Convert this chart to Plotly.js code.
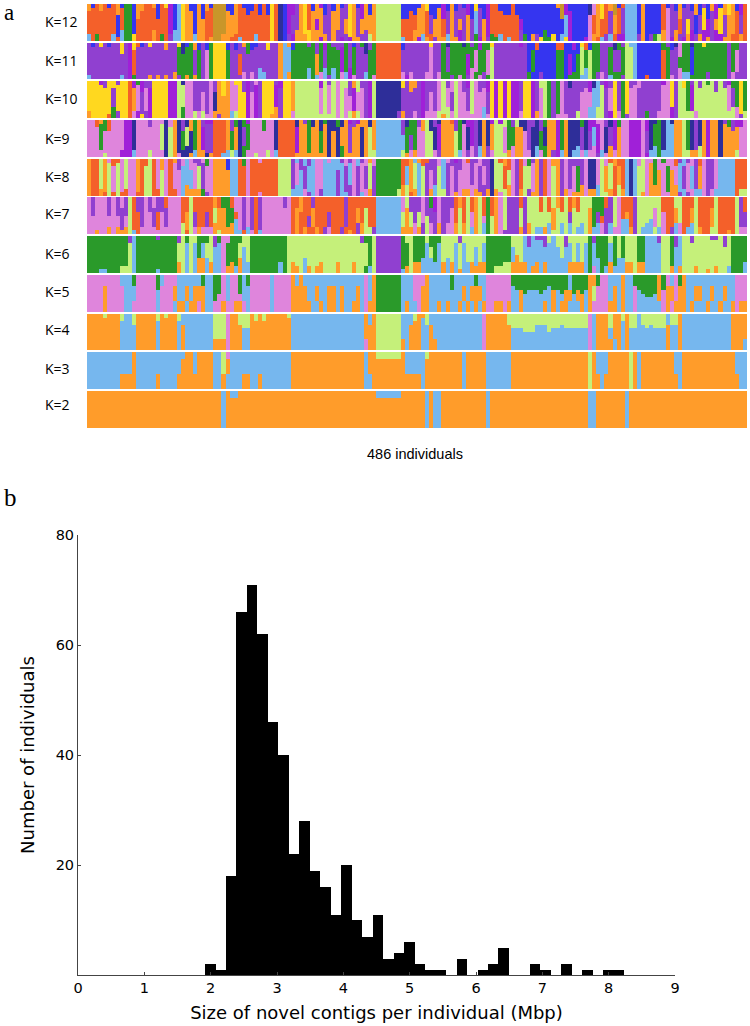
<!DOCTYPE html>
<html>
<head>
<meta charset="utf-8">
<script src="https://cdn.plot.ly/plotly-3.0.1.min.js"></script>
<style>html,body{margin:0;padding:0;background:#fff}#c{width:750px;height:1026px}</style>
</head>
<body>
<div id="c"></div>
<script>
// Ancestry palette
var palette = {o:'#FF9C2A',b:'#76B7EE',l:'#C5F07A',p:'#DF85DC',g:'#2A9A2A',v:'#9040D0',r:'#F4602A',y:'#FFD81F',n:'#2E2E99',u:'#3535F0',m:'#A020D8',d:'#C8962A'};
var kLabels = ['K=12','K=11','K=10','K=9','K=8','K=7','K=6','K=5','K=4','K=3','K=2'];
var individualsPerColumn = 3;

// One letter per 3 individuals, top / middle / bottom part of each bar
var k12Top="ouroruroug guoorroury mubyouuouo uddduuoruu ururuyrnum mvoyruomuv uouvyoumou olllllluuu uuoyuuumuo uvumuyuumr ruuuruuuuu uuuuuodmuu uuunpoyrod urbbbuouuu uruvuouvuo uvuomuoyou mr";
var k12Mid="rrrrrrrurg gurrrrrrrr mubyoouoor rdddooorrr rrrrryrnum vvoyromovv oovoyovooo ollllllrrr roorvoorvo vovovbvomr rrrrrrmuuu uuuuuuubmu uuuprorrvo rvbbbuouuu urpvvrvyvu vymvoyvoor vr";
var k12Bot="brgrrrbrbg gyrrrrorgr vbbyooboor oddoorrbrr rbrrryrnuv moooyoomov ovmvmoovvl ollllllbrr omborvoobo omvovgmovg gbrbrrvguo vyggyubymu uumporbvbr mmbbbvouvg lopmovmomv omovmmoorr or";
var k11Top="vuvyvuvvyv myruvyvvvo vvynugouvu gyyyuvuvog uuvvyvvobo ugggvgvgmg vvvgvuvgnv grrrrrruvv vvvvyvvgng ggngvgmggy vvvvvvmvuu ruuuurruum uyruggvvvn gvlbbuuuuu ugvunpggng gygggggvgg vv";
var k11Mid="vvvvvvvvvv mrvvvvvvvv vvggggvgvp gyyygvvrvv vvvvvvvobb ggggggogvg ggmgvgvvvg grrrrrrvvv vvvvpvvgvg gggmgpggpl vvvvvvvvug uuuuuggumu glglggvvgv vgllbuuuuu urgvvgggug gggggggvgp vv";
var k11Bot="bvvvvvvvbv mgvvvovovo vovgogogvp gyyygvvvpv pvbbvvvobo ggggbgbpbv bgpbmpvvbg prrrrrrpmp vvvppvpggv gpgvpgpvgl vvvvvvvvgu uvuuuggugg gbblgvpvbg gvllbuuruu urgpvpbbgg ggvggggvpv vv";
var k10Top="yyymvyyvyy rmgmvvyyyy mmlnppvvvv pvoyopyyvm vpvyyyvmyy ollllllmlv lpllvolvvm lnnnnnnyvo ovmvvvplvp lpvmlpvvmy mymymmvyym vllgvgpvnv vvvmnbvmvy vgyvvpvvvv vmpyvlygvl vlglvlvmgg yg";
var k10Mid="yyyyyyvyyy ropvpmyyyy mmllppvvpv pnoooppyym pmvyyymvyy ollllllplp lplppmppvm lnnnnnnvvv vvmvpvplpv lppvlpppvy mymymmvyym vplgvgpvvv vpppbblvpy vgyppvvvvv vppyvllgml lllllllpvg yg";
var k10Bot="oyyyyrgvyy rpmyvmyyyy mmlgpplplp povooblyym pmvyyoovyy plllllllll lplplolpvm lnnnnnvovv pvmppplolp lppppppbpy mymymmpyym oplgvpppvv lppbbllvmy pgvppvvgvv pppmvllllp lllllllllp vl";
var k9Top="pprogrpppm mnpppvpppn ponvnogovm mrrrovgngm pppgppnrrr rnovgnongn ngnomvmoon obbbbbbvng gvolnvnoor vgnmmvnonm lmlgvlnnvv nvgoomgonn ngnmmppvnm gppmmmpmnn gnbnoolgnv nomoonvgvm mp";
var k9Mid="pppgpppppm mnppppppln longlngomv vrrrogonvg ppppppnrrr rmoogoogon onoovoonol obbbbbbbgv gppllnmooo lgpnmvnono llpggoopvn ngnoomgonn nvnvbmpnvm oppmmmpvng gnbboolgnv nomoonoooo pp";
var k9Bot="pppplpppmm mbppplpppn lopnnoboon orrbblbngp plpplpbrrr roooooooon ongoooonol lbbbbbblop oppllpvooo lbpvpvbovp lllopooppn bpgovmbonb bpbppvbpop oppmmmpmbb gbbboolloo lomoonoool pp";
var k8Top="orrloprrpl pporrlrpop rovpbpvvpg poooubbrgp rrprrrrlll vbvbvbppbp bbvpvpbvpo pggggggrro borrvvpbpv mvprvvpvvn lrorpvrpgv ovrpoovpvv vvpnnplpro rrbnbplppg pgpprvbvpv rpvvpbbbbr rr";
var k8Mid="orrlolplpl pporllrplp rppbbbplvp poooobbrrp rrrrrrrlll vpbvbbppbb bvbvbpvpvl vggggggrbo lblvpvlbvp vpppvpvpvn llrlpvrllp ovrplovpvp gvpnnplolr orbnbllpog opgopbvpbv opvvpbbbbr rr";
var k8Bot="orrorlrlrr pprrllrrlp rrpboooogv poooobbrrp rrprrrrlll bbbpvbpvbb bvbbvpvbpo vggggglolr oblvobllvp opoopoovon oplopvolvo ovrplovopo oopoobllor lobnblopoo oppoovbvpb bpvpbbbbbr ll";
var k7Top="pvpppvpvpv lrvvpvpvvr ppprrlrrrr rorggrppvp vrvpppppvp rrorrvrrrr rrrvrrrrrr rbbbbbbplv vvpvgmpvvv rorlrolrgr oplvvvrvll lrlrlorlro rlllgggrvl prrrvlllll lrrrllrrrl rrrrlrrrrl vr";
var k7Mid="ppppppppvp lrrvppvrpv ppprolvrrv rlooggrpvp vrvppppppp rorrvorrrv rrrvrrorlr rbbbbbblol vlplvvpvvp rlrlpolpgl oplvvvlvll llllolllvl lllogvrvvl prorvllllp lprrolrrol rrrolrrrrl vv";
var k7Bot="ppoppopooo lbrppppppp ppplrlpopp polooobbrb prbppppppp rororrorvp rrvrorvoll vbbbbbbooo povlpvovpp ololbolbgl opvvvvovol bbobllblbl bblobbpvbp pbbovlbbbl bprvbprbbl orrllrrorl pp";
var k6Top="gggggggggg vbgggggvgg ggvlgllggg lvgppgggll gggggggggl llllllllll lllllllvgg lvvvvvvgll ggglggglll lvllllllgg gggglllbvb vvvlbllvll lllgvggglg lglllggbbb vllgvbllvl lllvvlvlgg gg";
var k6Mid="gggggggggg lbgggggggg ggllblbgbl lbbpggglbl gggggggggl llllllllll lllllllllg lvvvvvvggl gggblgblll blbllblbgg ggggbllbbb bbbbbblbbl blbgbgggbg lglllggbbb bllgbbllll llllllllgg gg";
var k6Bot="gggbbgggll lbgggggbgg ggolblboob obbpoobobb gggggggbgl oolbolooll lolllollgb lvvvvvvbol oobbbbbobo bobboooogg lllloooobo obobbbbboo oobgpbgbob bbooloobbb bllobolllo llolollbgg gb";
var k5Top="ppppppppbb bgpppppgbp ppbbbbbbgb bggpbppgbg pppppbpppp obobbbbbbb bbbbbbbbpb oggggggbbb pppobbbbbg bbbbbgbbpp ppppgggggg ggggggggbg gggoogppbb bobbgggggg ogpbpgobbb bbbbbbbbbp pp";
var k5Mid="ppppoppppb bbpppppbpp pobbobooob bgppbpppbb pppppbpppp oooobbobbo obobbbobpb oggggggbbb ppoobbbbbb bbobooobpp ppppbbobbb bbbbobboob oobolpppbo bobbpbbbbb opoopoobbo obbobbobbp pp";
var k5Bot="ppppoppppb bppppppbpp pbooboopob bppoppoopb pppppbpppp ooooobbobo obobboobpo oggggggbob bpoobbobob bobobobopp oopobbobbb bboboboobb boboppppoo bobbpbbbbb bpopooobob bbobbobbop oo";
var k4Top="oooolooolb blooooolol oolbbbbbbb blllpoolll ololoooool bbbbbbbbbb bbbbbbbbob ollllllbbb loolbbbbbb bbbbbbbpoo ooolllllll llllllllll lllpbooolo olollbllll llbllobbbb bbbbbbbboo oo";
var k4Mid="oooooooobb bboooooboo oobobbbbbb blllpooobb oooooooooo bbbbbbbbbb bbbbbbbboo ollllllbbo oobbobbbbb bbbbbbbpoo oooobbbbbb bbbbbbbbbb bbbpbooobo obobbbbbbb bbobbobbbb bbbbbbbboo oo";
var k4Bot="oooooooobb bboooooboo oobobbbbbb booopooobb oooooooooo bbbbbbbbbb bbbbbbbbpo ollllllobo oobboobbbb bbbbbbbpoo oooobbbbbb bbbbbbbbbb bbbpboooob obobbbbbbb bbobbobbbb bbbbbbbboo ob";
var k3Top="bbbbbbbbbb bobbbbbbbb bbbboobooo obblpbbbbb bbbbbbbbbb oooooooooo oooooooobo ollllllobb bbbloooooo oobooooobb bbbboooooo oooooooooo ooolobbboo oooloboooo oooobboooo ooooooooob bb";
var k3Mid="bbbbbbbbbb bobbbbbbbb bbbooobooo obblobbbbb bbbbbbbbbb oooooooooo oooooooobo oooooooobb bbbooooooo oobooooobb bbbboooooo oooooooooo ooolobbboo oooloboooo oooobboooo ooooooooob bb";
var k3Bot="bbbbbbbboo oobbbbbobb bboooooooo obbobbbboo bbobbbbbbb oooooooooo oooooooobb oooooooooo oobooooooo oobooooobb bbbboooooo oooooooooo oooloobooo oooloboooo oooooboooo oooooooooo bb";
var k2Top="oooooooooo oooooooooo oooooooooo ooobobbooo oooooooooo oooooooooo oooooooooo obbbbbbooo ooobobbooo oooooooobo oooooooooo oooooooooo ooobbooooo oobooooooo oooooooooo oooooooooo oo";
var k2Mid="oooooooooo oooooooooo oooooooooo ooobooooo o oooooooooo oooooooooo oooooooooo oooooooooo ooobobbooo oooooooobo oooooooooo oooooooooo ooobbooooo oobooooooo oooooooooo oooooooooo oo";
var k2Bot="oooooooooo oooooooooo oooooooooo ooobooooo o oooooooooo oooooooooo oooooooooo oooooooooo ooobobbooo oooooooobo oooooooooo oooooooooo ooobbooooo oobooooooo oooooooooo oooooooooo oo";

// Height of the top / bottom part of each column, in tenths
var k12CutT="2132412312 3142231421 2414323142 1411232413 2132313621 3421324132 2314231423 1111111442 3142341423 2413421431 4233234332 1111214321 2313324123 1111214132 2413241423 3142413312 33";
var k12CutB="2121122131 1212123122 2312132122 1222312121 1212121212 2312323121 2312131232 2222222121 3121213122 1321221312 1221223232 2131212111 1213211222 2222122322 2321321232 2312321221 21";
var k11CutT="2121312131 2211213112 1213122212 1111212313 2121211111 2123123122 1213212132 1111111211 2121121314 2313122121 1212121222 2222122332 3122132112 2131111111 3212141213 3112122112 21";
var k11CutB="1212111212 1121212121 1212121312 1111213121 2132121212 2321321231 3122312123 1222221212 1212222321 2131321212 1212121222 1212123212 2132322112 2132222111 1231232212 2123212322 21";
var k10CutT="1111212121 1213222222 2131423232 1324121132 3112111212 2111111211 1212423221 1111111223 2122323423 2132123232 1111122112 3213122122 2323221221 3122122212 3121322211 2212322122 11";
var k10CutB="2121213212 3221232121 1213232221 2212122122 1211213121 2111111111 2121222312 1111112233 2212122132 1212121312 2121212121 2312112122 2123333122 2213122212 2123222222 1111111233 12";
var k9CutT="2121332121 2112122212 2213231321 1322132321 2113212222 2231322313 3223121222 1111111424 4231321231 3212312421 3123222322 2321122221 3213211222 2112221331 3121122324 2212321232 21";
var k9CutB="1112122222 1212122122 2212312121 1111222332 2121222222 2122111111 2132111222 2222222212 2121322121 3212323132 1212322222 3232222232 3222312132 1212222123 3232211222 3121211222 21";
var k8CutT="2121212121 1212212132 2132231212 2111312123 1211212111 2132212121 2312132121 2111111221 1121322312 1321212222 3123122221 2121222122 2121311212 2121121213 3123212122 2121212111 11";
var k8CutB="2212121312 1111211212 1212322221 1222212121 2112121111 2312123212 2121313122 1222222331 2322232212 1322321322 2123112321 2121321221 1322233122 3211121333 1212312122 2112212111 22";
var k7CutT="3535352535 3544343443 3335434444 4333434434 5333333335 4343534444 3334343434 3333333434 4435343433 4343434535 4345443434 3434334343 4343545344 4345333333 3434334434 4343434343 44";
var k7CutB="1212121212 2122112112 2223122222 2312234112 1211211122 2222222222 2122123322 2222222222 3233323432 3233232322 2312222233 2223133233 2324233232 2442232342 2232332233 2222322122 22";
var k6CutT="2222222212 2122222122 2223232222 3322222232 2222222222 2222222222 2222222222 2222222222 2322322333 2223232222 2222333333 1132332322 2423232223 3222232222 2222322222 2221123222 22";
var k6CutB="2221123222 3221222122 2234323444 3434232423 2222222322 3224232322 2322232222 2222222122 3344435343 3133323322 2233353362 3232434433 3344243232 4433233444 3342323222 2213223222 23";
var k5CutT="3333333433 4333333433 3333333335 3655333533 3333333333 3333333333 3333333333 3333333333 3332333344 3333333333 3333344544 4543445445 4543333333 3333345665 5433333333 3333333333 33";
var k5CutB=null;
var k4CutT="1112111121 1311111211 1123333333 3566122344 1212111111 3333333333 3333333333 3333333333 2113333333 3333333333 3333444555 3335443444 4442333342 3244433434 4433333333 3333333333 33";
var k4CutB=null;
var k3CutT=null, k3CutB=null, k2CutT=null, k2CutB=null;

var rowsTop = [k12Top,k11Top,k10Top,k9Top,k8Top,k7Top,k6Top,k5Top,k4Top,k3Top,k2Top];
var rowsMid = [k12Mid,k11Mid,k10Mid,k9Mid,k8Mid,k7Mid,k6Mid,k5Mid,k4Mid,k3Mid,k2Mid];
var rowsBot = [k12Bot,k11Bot,k10Bot,k9Bot,k8Bot,k7Bot,k6Bot,k5Bot,k4Bot,k3Bot,k2Bot];
var cutsTop = [k12CutT,k11CutT,k10CutT,k9CutT,k8CutT,k7CutT,k6CutT,k5CutT,k4CutT,k3CutT,k2CutT];
var cutsBot = [k12CutB,k11CutB,k10CutB,k9CutB,k8CutB,k7CutB,k6CutB,k5CutB,k4CutB,k3CutB,k2CutB];
// Shares used by rows without per-column cuts
var partTop = [.3,.3,.3,.3,.3,.3,.2,.38,.38,.18,.2];
var partBot = [.2,.2,.2,.2,.2,.2,.2,.30,.30,.40,.4];

// Histogram
var histCounts = [2,1,18,66,71,62,46,40,22,28,19,16,11,20,10,7,11,3,4,6,2,1,1,0,3,0,1,2,5,0,0,2,1,0,2,0,1,0,1,1];
var histFirstBinCentre = 1.994;
var histBinWidth = 0.158;
var histXTicks = [0,1,2,3,4,5,6,7,8,9];
var histYTicks = [20,40,60,80];

var W=750,H=1026,L=87,R=747;
var rowTopPx=[4,43,81,120,159,197,236,275,314,352,391];
var rowBotPx=[41,79,118,157,196,234,273,312,350,389,428];
var labelPx=[21,60,98,138,176,214,253,291,329,368,404];

var traces=[], layout={width:W,height:H,margin:{l:0,r:0,t:0,b:0},paper_bgcolor:'#fff',plot_bgcolor:'#fff',
  showlegend:false,barmode:'stack',bargap:0,annotations:[]};
layout.xaxis={domain:[L/W,R/W],range:[0,486],visible:false,fixedrange:true,anchor:'y'};

function chars(s){return s.replace(/ /g,'').split('');}
kLabels.forEach(function(lab,i){
  var yName = i===0?'y':'y'+(i+1);
  var yKey = i===0?'yaxis':'yaxis'+(i+1);
  layout[yKey]={domain:[1-rowBotPx[i]/H,1-rowTopPx[i]/H],range:[0,1],visible:false,fixedrange:true,anchor:'x'};
  var topL=chars(rowsTop[i]),midL=chars(rowsMid[i]),botL=chars(rowsBot[i]);
  var tShare=topL.map(function(_,c){return cutsTop[i]?(+chars(cutsTop[i])[c])/10:partTop[i];});
  var bShare=botL.map(function(_,c){return cutsBot[i]?(+chars(cutsBot[i])[c])/10:partBot[i];});
  var mShare=midL.map(function(_,c){return 1-tShare[c]-bShare[c];});
  [[botL,bShare],[midL,mShare],[topL,tShare]].forEach(function(part){
    if(part[0].length!==162) console.warn(lab,part[0].length);
    traces.push({type:'bar',xaxis:'x',yaxis:yName,
      x:part[0].map(function(_,c){return c*individualsPerColumn+individualsPerColumn/2;}),
      y:part[1],
      width:individualsPerColumn,
      marker:{color:part[0].map(function(ch){return palette[ch];}),line:{width:0}},
      hoverinfo:'skip'});
  });
  layout.annotations.push({xref:'paper',yref:'paper',x:43/W,y:1-labelPx[i]/H,text:lab,showarrow:false,xanchor:'left',yanchor:'middle',
    font:{family:'Open Sans',size:14,color:'#000'}});
});

// histogram on its own axes
traces.push({type:'bar',xaxis:'x2',yaxis:'y12',x0:histFirstBinCentre,dx:histBinWidth,y:histCounts,width:histBinWidth,
  marker:{color:'#000',line:{width:0}},hoverinfo:'skip'});
var axisFont={family:'DejaVu Sans',size:14.5,color:'#000'};
var titleFont={family:'DejaVu Sans',size:18,color:'#000'};
layout.xaxis2={domain:[78/W,675/W],range:[0,9],anchor:'y12',tickmode:'array',tickvals:histXTicks,ticktext:histXTicks.map(String),
  ticks:'inside',ticklen:3,tickcolor:'#444',showgrid:false,zeroline:false,showline:true,linecolor:'#444',linewidth:1,tickfont:axisFont,fixedrange:true,
  title:{text:'Size of novel contigs per individual (Mbp)',font:titleFont,standoff:10}};
layout.yaxis12={domain:[1-975/H,1-535/H],range:[0,80],anchor:'x2',tickmode:'array',tickvals:histYTicks,ticktext:histYTicks.map(String),
  ticks:'inside',ticklen:3,tickcolor:'#444',showgrid:false,zeroline:false,showline:true,linecolor:'#444',linewidth:1,tickfont:axisFont,fixedrange:true,
  title:{text:'Number of individuals',font:titleFont,standoff:16}};

layout.annotations.push({xref:'paper',yref:'paper',x:415/W,y:1-454/H,text:'486 individuals',showarrow:false,xanchor:'center',yanchor:'middle',
  font:{family:'Liberation Sans',size:14.5,color:'#000'}});
layout.annotations.push({xref:'paper',yref:'paper',x:2/W,y:1-12/H,text:'a',showarrow:false,xanchor:'left',yanchor:'middle',
  font:{family:'Liberation Serif',size:23,color:'#000'}});
layout.annotations.push({xref:'paper',yref:'paper',x:2/W,y:1-497/H,text:'b',showarrow:false,xanchor:'left',yanchor:'middle',
  font:{family:'Liberation Serif',size:25,color:'#000'}});

Plotly.newPlot('c',traces,layout,{displayModeBar:false,staticPlot:true});
</script>
</body>
</html>
